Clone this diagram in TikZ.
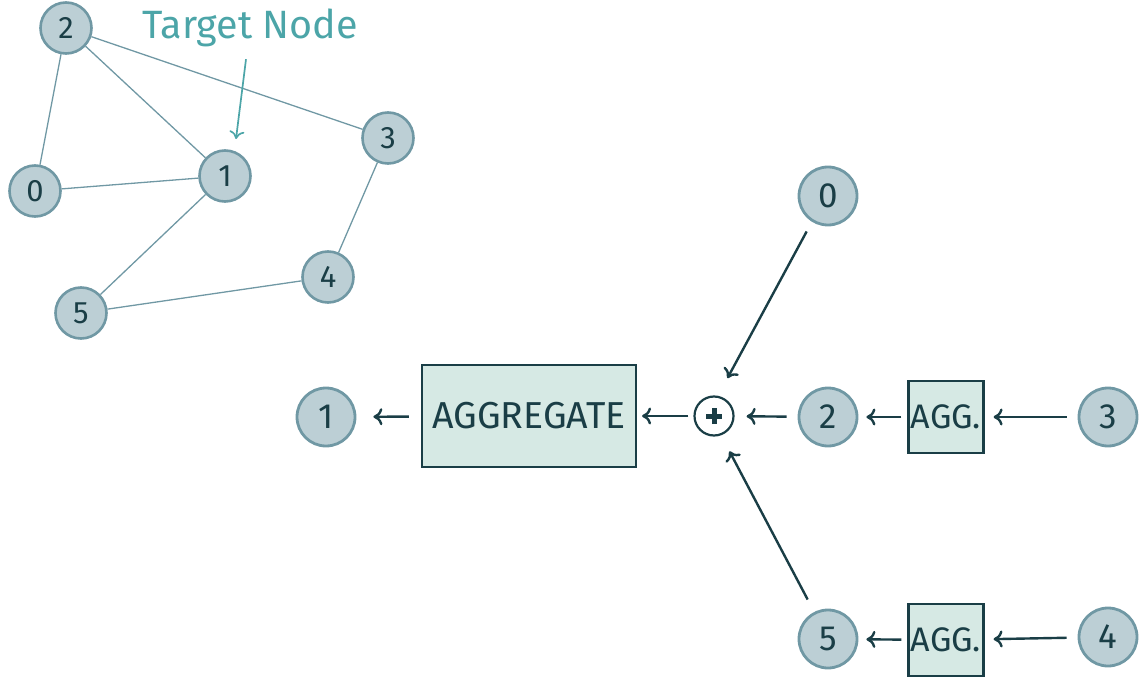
\documentclass[tikz,border=0pt]{standalone}
\usepackage{fontspec}
\setmainfont{Fira Sans}
\usetikzlibrary{arrows.meta}
\definecolor{vfill}{HTML}{BCCFD5}
\definecolor{vline}{HTML}{7098A4}
\definecolor{bfill}{HTML}{D6E9E4}
\definecolor{ink}{HTML}{1A3E46}
\definecolor{accent}{HTML}{4CA5A8}
\tikzset{
  gvert/.style={circle, draw=vline, fill=vfill, line width=2.6pt, minimum size=51pt,
    inner sep=0pt, text=ink, font=\fontsize{31}{31}\selectfont},
  fvert/.style={circle, draw=vline, fill=vfill, line width=2.8pt, minimum size=58pt,
    inner sep=0pt, text=ink, font=\fontsize{35}{35}\selectfont},
  gedge/.style={draw=vline, line width=1.3pt},
  aggbox/.style={rectangle, draw=ink, fill=bfill, line width=2.2pt, inner sep=0pt,
    text=ink, font=\fontsize{34}{34}\selectfont},
  flow/.style={draw=ink, line width=2.4pt,
    -{Computer Modern Rightarrow[length=9pt,width=17pt]}},
  pointer/.style={draw=accent, line width=1.7pt,
    -{Computer Modern Rightarrow[length=8pt,width=15pt]}},
}
\begin{document}
\begin{tikzpicture}[x=1pt,y=-1pt]
\useasboundingbox (0,0) rectangle (1141,679);

% ---- input graph ----
\node[gvert] (g2) at (66,28)  {2};
\node[gvert] (g0) at (35,191) {0};
\node[gvert] (g1) at (225,176) {1};
\node[gvert] (g3) at (388,138) {3};
\node[gvert] (g4) at (328,277) {4};
\node[gvert] (g5) at (81,313) {5};
\draw[gedge] (g2) -- (g0);
\draw[gedge] (g2) -- (g1);
\draw[gedge] (g2) -- (g3);
\draw[gedge] (g0) -- (g1);
\draw[gedge] (g1) -- (g5);
\draw[gedge] (g5) -- (g4);
\draw[gedge] (g3) -- (g4);

\node[text=accent, font=\fontsize{39.5}{39.5}\selectfont, inner sep=0pt] (lbl) at (250,28) {Target Node};
\coordinate (tgt) at (236,139);
\draw[pointer] ([shift={(-4,12)}]lbl.south) -- (tgt);

% ---- aggregation tree for node 1 ----
\node[fvert] (r1) at (326,417) {1};
\node[aggbox, minimum width=214pt, minimum height=102pt, font=\fontsize{37.5}{37.5}\selectfont] (agg) at (529,416) {AGGREGATE};
\node[circle, draw=ink, line width=2.2pt, minimum size=39pt, inner sep=0pt] (plus) at (714,416) {};
\draw[ink, line width=5pt] ([xshift=-8]plus.center) -- ([xshift=8]plus.center);
\draw[ink, line width=5pt] ([yshift=-8]plus.center) -- ([yshift=8]plus.center);

\node[fvert] (r0) at (828,196) {0};
\node[fvert] (r2) at (828,417) {2};
\node[aggbox, minimum width=75pt, minimum height=72pt] (aggA) at (946,417) {AGG.};
\node[fvert] (r3) at (1108,417) {3};
\node[fvert] (r5) at (828,639) {5};
\node[aggbox, minimum width=75pt, minimum height=72pt] (aggB) at (946,640) {AGG.};
\node[fvert] (r4) at (1108,637) {4};

\draw[flow, shorten <=12pt, shorten >=17pt] (agg) -- (r1);
\draw[flow, shorten <=5pt, shorten >=5pt] (plus) -- (agg);
\draw[flow, shorten <=11pt, shorten >=12pt] (r2) -- (plus);
\draw[flow, shorten <=11pt, shorten >=20pt] (r0.238.6) -- (plus.79);
\draw[flow, shorten <=14pt, shorten >=18pt] (r5.117.7) -- (plus.290.7);
\draw[flow, shorten <=6pt, shorten >=8pt] (aggA) -- (r2);
\draw[flow, shorten <=11pt, shorten >=9pt] (r3) -- (aggA);
\draw[flow, shorten <=6pt, shorten >=8pt] (aggB) -- (r5);
\draw[flow, shorten <=11pt, shorten >=9pt] (r4) -- (aggB);
\end{tikzpicture}
\end{document}
